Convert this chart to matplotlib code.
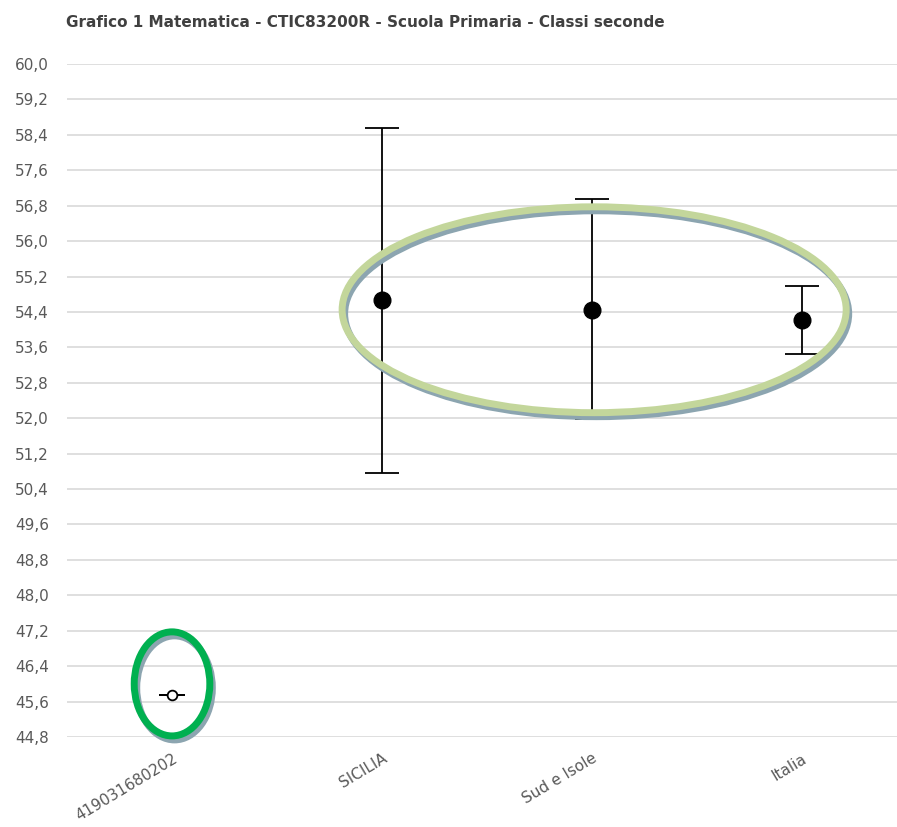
import matplotlib
matplotlib.use("Agg")
import matplotlib.pyplot as plt
from matplotlib.patches import Ellipse

categories = ["419031680202", "SICILIA", "Sud e Isole", "Italia"]
means = [45.75, 54.67, 54.44, 54.22]
lower = [45.75, 50.76, 51.98, 53.45]
upper = [45.75, 58.55, 56.95, 54.99]
yticks = [44.8 + 0.8 * i for i in range(20)]

fig = plt.figure(figsize=(8.97, 8.27), dpi=100)
ax = fig.add_axes([0.0747, 0.1088, 0.9253, 0.8138])
ax.set_xlim(-0.5, 3.452)
ax.set_ylim(44.8, 60.0)

for s in ax.spines.values():
    s.set_visible(False)
ax.set_yticks(yticks)
ax.set_yticklabels([f"{v:.1f}".replace(".", ",") for v in yticks],
                   fontsize=11, color="#595959")
ax.grid(axis="y", color="#d9d9d9", linewidth=1.2)
ax.set_axisbelow(True)
ax.tick_params(axis="y", length=0, pad=13)

x = list(range(len(categories)))
# first point: hollow marker
ax.errorbar([x[0]], [means[0]], yerr=[[means[0] - lower[0]], [upper[0] - means[0]]],
            fmt="o", color="black", mfc="white", mec="black", ms=7, mew=1.3,
            capsize=9.5, elinewidth=1.3, capthick=1.3, zorder=3)
ax.errorbar(x[1:], means[1:],
            yerr=[[m - l for m, l in zip(means[1:], lower[1:])],
                  [u - m for m, u in zip(means[1:], upper[1:])]],
            fmt="o", color="black", ms=12, capsize=12, elinewidth=1.3,
            capthick=1.3, zorder=3)

ax.set_xticks(x)
ax.set_xticklabels(categories, rotation=31, ha="right", va="top",
                   rotation_mode="anchor", fontsize=11, color="#595959")
ax.tick_params(axis="x", length=0, pad=10)

# annotation ellipses (data coordinates)
big_c, big_w, big_h = (2.01, 54.45), 2.40, 4.65
small_c, small_w, small_h = (0.0, 46.0), 0.36, 2.35
for (c, w, h, col) in [(big_c, big_w, big_h, "#c3d69b"), (small_c, small_w, small_h, "#00b050")]:
    ax.add_patch(Ellipse((c[0] + 0.012, c[1] - 0.09), w, h, fill=False,
                         edgecolor="#8ca5b0", linewidth=5, zorder=4, clip_on=False))
    ax.add_patch(Ellipse(c, w, h, fill=False, edgecolor=col, linewidth=5, zorder=5,
                         clip_on=False))

fig.text(0.0736, 0.973, "Grafico 1 Matematica - CTIC83200R - Scuola Primaria - Classi seconde",
         fontsize=11, fontweight="bold", color="#404040", ha="left", va="center")

fig.savefig("out.png", dpi=100)
